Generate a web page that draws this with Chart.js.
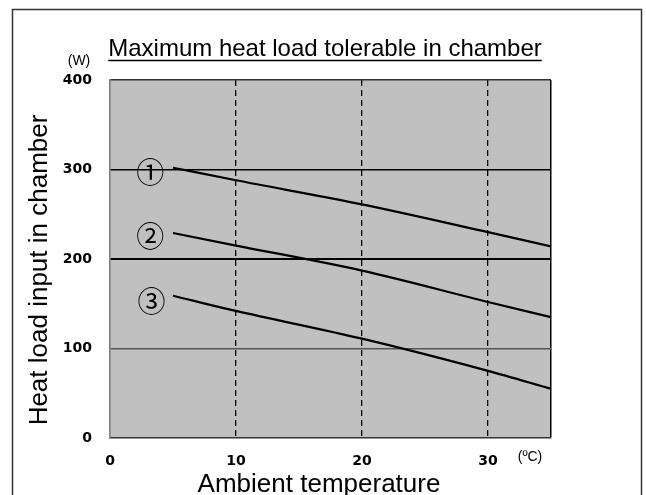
<!DOCTYPE html>
<html>
<head>
<meta charset="utf-8">
<script src="https://cdn.jsdelivr.net/npm/chart.js@4.4.1/dist/chart.umd.min.js"></script>
<style>
  html, body { margin: 0; padding: 0; background: #fff; }
  #wrap { width: 646px; height: 495px; }
</style>
</head>
<body>
<div id="wrap"><canvas id="heatChart" width="646" height="495"></canvas></div>
<script>
// --- datos ---
const temps = [5, 10, 20, 30, 35];
const load1 = [302, 288, 261, 230, 214];
const load2 = [229, 215, 187, 152, 135];
const load3 = [159, 142, 111, 75, 55];
const curveNames = ["①", "②", "③"];
const curveLabelAt = [[3.2, 297], [3.2, 225], [3.3, 153]];

const titleText = "Maximum heat load tolerable in chamber";
const yTitle = "Heat load input in chamber";
const xTitle = "Ambient temperature";

const toPoints = (ys) => temps.map((t, i) => ({ x: t, y: ys[i] }));

// --- plugin: fondo, marco, textos ---
const decor = {
    id: "decor",
    beforeDraw(chart) {
        const { ctx, chartArea: a } = chart;
        ctx.save();
        ctx.fillStyle = "#fff";
        ctx.fillRect(0, 0, chart.width, chart.height);
        ctx.strokeStyle = "#333";
        ctx.lineWidth = 1.5;
        ctx.strokeRect(12.5, 9.5, 629, 500);
        ctx.fillStyle = "#c0c0c0";
        ctx.fillRect(a.left, a.top, a.right - a.left, a.bottom - a.top);
        ctx.restore();
    },
    afterDraw(chart) {
        const { ctx, scales } = chart;
        ctx.save();
        ctx.fillStyle = "#000";
        ctx.strokeStyle = "#000";

        // titulo subrayado
        ctx.font = "24px 'Liberation Sans', Arial, sans-serif";
        ctx.textAlign = "center";
        ctx.textBaseline = "alphabetic";
        ctx.fillText(titleText, 325, 56);
        const w = ctx.measureText(titleText).width;
        ctx.lineWidth = 1.6;
        ctx.beginPath();
        ctx.moveTo(325 - w / 2, 60.5);
        ctx.lineTo(325 + w / 2, 60.5);
        ctx.stroke();

        // unidades
        ctx.font = "14px 'Liberation Sans', Arial, sans-serif";
        ctx.textBaseline = "middle";
        ctx.fillText("(W)", 79, 61);
        ctx.fillText("(ºC)", 530, 457);

        // titulos de ejes
        ctx.font = "26px 'Liberation Sans', Arial, sans-serif";
        ctx.textBaseline = "alphabetic";
        ctx.fillText(xTitle, 319, 492);
        ctx.save();
        ctx.translate(47, 270);
        ctx.rotate(-Math.PI / 2);
        ctx.fillText(yTitle, 0, 0);
        ctx.restore();

        // numeros de curva
        ctx.font = "28px 'Noto Sans CJK JP', 'DejaVu Sans', sans-serif";
        ctx.textBaseline = "middle";
        curveNames.forEach((name, i) => {
            const [xv, yv] = curveLabelAt[i];
            ctx.fillText(name, scales.x.getPixelForValue(xv), scales.y.getPixelForValue(yv));
        });
        ctx.restore();
    },
};

const lineStyle = {
    borderColor: "#000",
    borderWidth: 2.2,
    pointRadius: 0,
    showLine: true,
    fill: false,
    cubicInterpolationMode: "monotone",
};

const gridColorY = (c) => {
    const v = c.tick ? c.tick.value : null;
    if (v === 0) return "rgba(0,0,0,0)";
    if (v === 100) return "#555";
    if (v === 400) return "#333";
    return "#000";
};

const tickFont = { family: "'DejaVu Sans', sans-serif", weight: "bold", size: 14 };

new Chart(document.getElementById("heatChart"), {
    type: "scatter",
    data: {
        datasets: [
            { ...lineStyle, data: toPoints(load1) },
            { ...lineStyle, data: toPoints(load2) },
            { ...lineStyle, data: toPoints(load3) },
        ],
    },
    options: {
        responsive: false,
        animation: false,
        layout: { padding: { top: 80, right: 95, left: 0, bottom: 0 } },
        plugins: {
            legend: { display: false },
            tooltip: { enabled: false },
            title: { display: false },
        },
        scales: {
            x: {
                type: "linear",
                min: 0,
                max: 35,
                ticks: {
                    stepSize: 10,
                    padding: 15,
                    color: "#000",
                    font: tickFont,
                    callback: (v) => (v % 10 === 0 ? String(v) : ""),
                },
                grid: {
                    drawTicks: false,
                    color: (c) => (c.tick && c.tick.value === 0 ? "#808080" : "#000"),
                    lineWidth: (c) => (c.tick && c.tick.value === 35 ? 1.5 : 1.3),
                },
                border: {
                    color: "#333",
                    width: 1.5,
                    dash: (c) => (c.tick && c.tick.value % 10 === 0 && c.tick.value !== 0 ? [6, 4] : []),
                },
                afterFit: (s) => { s.height = 57; },
            },
            y: {
                min: 0,
                max: 400,
                ticks: {
                    stepSize: 100,
                    padding: 18,
                    color: "#000",
                    font: tickFont,
                },
                grid: {
                    drawTicks: false,
                    color: gridColorY,
                    lineWidth: (c) => (c.tick && c.tick.value === 200 ? 2 : 1.4),
                },
                border: { color: "#808080", width: 1.5 },
                afterFit: (s) => { s.width = 110; },
            },
        },
    },
    plugins: [decor],
});
</script>
</body>
</html>
